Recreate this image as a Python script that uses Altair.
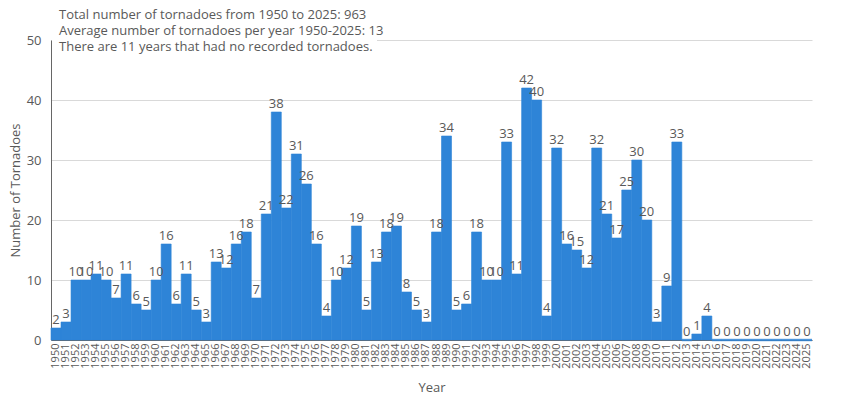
import altair as alt
import pandas as pd

years = list(range(1950, 2026))
counts = [
    2, 3, 10, 10, 11, 10, 7, 11, 6, 5,
    10, 16, 6, 11, 5, 3, 13, 12, 16, 18,
    7, 21, 38, 22, 31, 26, 16, 4, 10, 12,
    19, 5, 13, 18, 19, 8, 5, 3, 18, 34,
    5, 6, 18, 10, 10, 33, 11, 42, 40, 4,
    32, 16, 15, 12, 32, 21, 17, 25, 30, 20,
    3, 9, 33, 0, 1, 4, 0, 0, 0, 0,
    0, 0, 0, 0, 0, 0,
]
notes = [
    "Total number of tornadoes from 1950 to 2025: 963",
    "Average number of tornadoes per year 1950-2025: 13",
    "There are 11 years that had no recorded tornadoes.",
]

df = pd.DataFrame({"Year": [str(y) for y in years], "Count": counts})
one = pd.DataFrame({"k": [0]})

FONT = "Open Sans"
BLUE = "#2E84D7"
GRAY = "#595959"

x = alt.X("Year:N", title="Year", sort=None,
          scale=alt.Scale(paddingInner=0, paddingOuter=0),
          axis=alt.Axis(labelAngle=270, labelFontSize=11, labelColor=GRAY,
                        labelPadding=3, ticks=False, domainColor="#666666",
                        titleColor=GRAY, titleFontSize=13, titleFontWeight="normal",
                        titlePadding=13))
y = alt.Y("Count:Q", title="Number of Tornadoes",
          scale=alt.Scale(domain=[0, 50], nice=False),
          axis=alt.Axis(values=[0, 10, 20, 30, 40, 50], ticks=False,
                        labelFontSize=13, labelColor=GRAY, labelPadding=10,
                        domainColor="#666666", gridColor="#d9d9d9",
                        titleColor=GRAY, titleFontSize=13, titleFontWeight="normal",
                        titlePadding=4))

bars = alt.Chart(df).mark_bar(color=BLUE, stroke=BLUE, strokeWidth=0.6).encode(x=x, y=y)

zeros = alt.Chart(df).transform_filter(alt.datum.Count == 0).mark_tick(
    color=BLUE, thickness=2.5, size=10.1, orient="horizontal").encode(x=x, y=y)

labels = alt.Chart(df).mark_text(baseline="bottom", dy=-1, fontSize=13,
                                 color=GRAY, font=FONT).encode(
    x=x, y=y, text="Count:Q")

box = alt.Chart(one).mark_rect(color="white").encode(
    x=alt.value(1), x2=alt.value(326), y=alt.value(-32), y2=alt.value(1))

note = alt.Chart(one).mark_text(align="left", baseline="middle", fontSize=13,
                                fontWeight="normal", color=GRAY, font=FONT,
                                lineHeight=16).encode(
    x=alt.value(8), y=alt.value(-25), text=alt.value(notes))

chart = alt.layer(bars, zeros, labels, box, note).properties(
    width=761, height=300,
    padding={"left": 1, "top": 0, "right": 5, "bottom": 5},
).configure(font=FONT).configure_view(stroke=None)

chart.save("out.html", embed_options={"renderer": "svg", "actions": False})
